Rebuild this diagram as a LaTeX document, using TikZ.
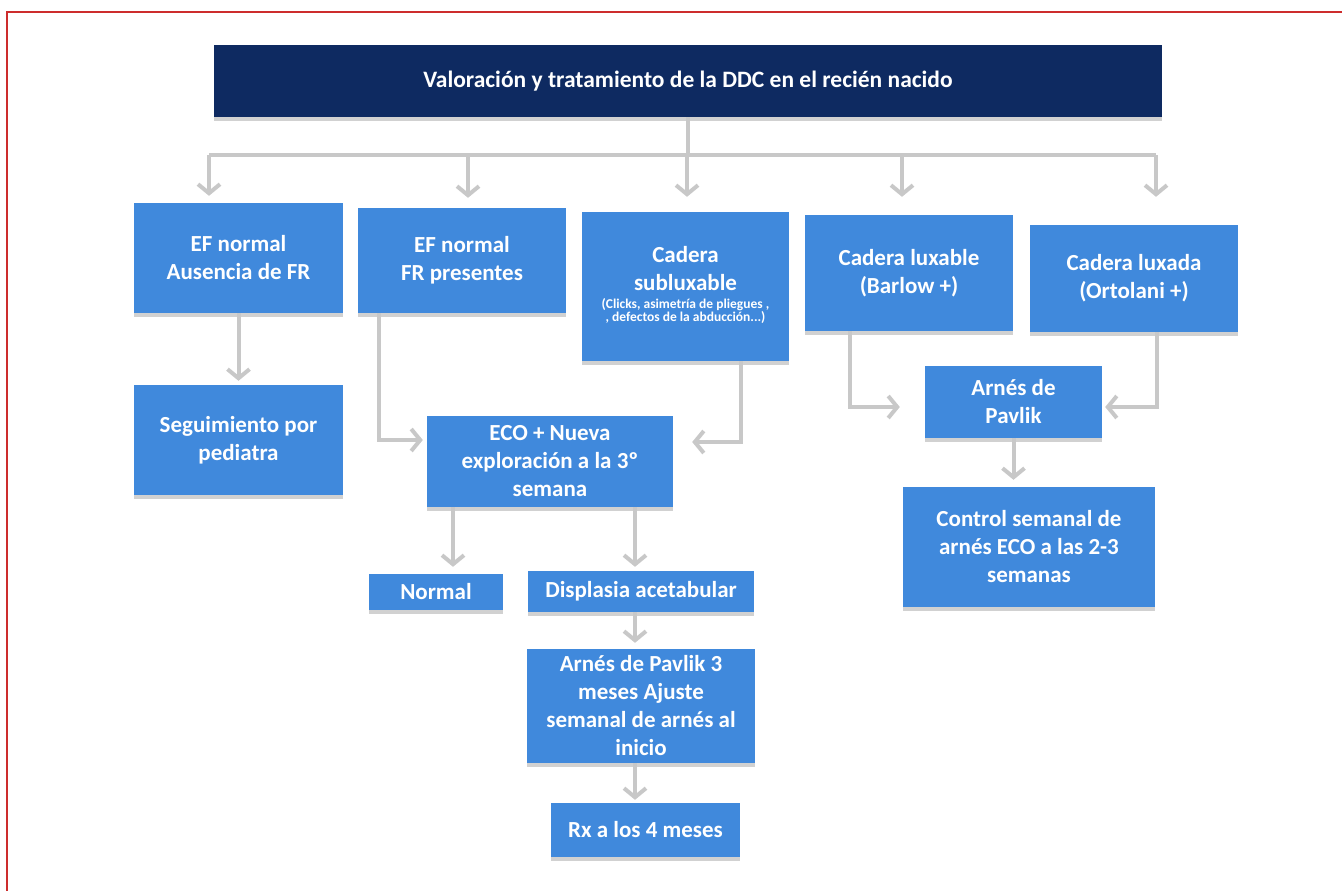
\documentclass[tikz,border=0pt]{standalone}
\usepackage{fontspec}
\setmainfont{Carlito}
\usetikzlibrary{arrows.meta,positioning,calc,shadows}
\definecolor{ddcblue}{RGB}{64,137,220}
\definecolor{ddcnavy}{RGB}{14,42,97}
\definecolor{ddcgray}{RGB}{200,200,200}
\definecolor{ddcred}{RGB}{205,45,45}

\begin{document}
\begin{tikzpicture}[x=1pt,y=-1pt,>={Straight Barb[length=9pt,width=22pt]}]
  \tikzstyle{box}=[fill=ddcblue,text=white,align=center,inner sep=0pt,
    font=\bfseries\fontsize{23}{28}\selectfont,
    drop shadow={shadow xshift=0pt,shadow yshift=-4pt,fill=black!40,opacity=0.45}]
  \tikzstyle{link}=[draw=ddcgray,line width=4pt]

  \useasboundingbox (0,0) rectangle (1342,891);
  \draw[ddcred,line width=2pt] (1342,12) -- (7,12) -- (7,891);

  \node[box,fill=ddcnavy,minimum width=948pt,minimum height=72pt,
    font=\bfseries\fontsize{23.5}{28}\selectfont] (title) at (688,81)
    {Valoración y tratamiento de la DDC en el recién nacido};

  \node[box,minimum width=209pt,minimum height=110pt] (ef1) at (238.5,258) {EF normal\\Ausencia de FR};
  \node[box,minimum width=208pt,minimum height=105pt] (ef2) at (462,260.5) {EF normal\\FR presentes};
  \node[box,minimum width=207pt,minimum height=149pt] (sub) at (685.5,286.5)
    {Cadera\\subluxable\\[-3pt]{\fontsize{13.5}{16}\selectfont\begin{tabular}{@{}c@{}}
      (Clicks, asimetría de pliegues ,\\[-3pt] , defectos de la abducción...)\end{tabular}}};
  \node[box,minimum width=208pt,minimum height=116pt] (lux) at (909,273) {Cadera luxable\\(Barlow +)};
  \node[box,minimum width=208pt,minimum height=107pt] (luxada) at (1134,278.5) {Cadera luxada\\(Ortolani +)};

  \node[box,minimum width=209pt,minimum height=110pt] (seg) at (238.5,440) {Seguimiento por\\pediatra};
  \node[box,minimum width=246pt,minimum height=91pt] (eco) at (550,461.5)
    {ECO + Nueva\\exploración a la 3º\\semana};
  \node[box,minimum width=177pt,minimum height=72pt] (arnes) at (1013.5,402) {Arnés de\\Pavlik};
  \node[box,minimum width=252pt,minimum height=120pt] (control) at (1029,547)
    {Control semanal de\\arnés ECO a las 2-3\\semanas};

  \node[box,minimum width=134pt,minimum height=36pt] (normal) at (436,592) {Normal};
  \node[box,minimum width=226pt,minimum height=41pt] (displ) at (641,591.5) {Displasia acetabular};
  \node[box,minimum width=228pt,minimum height=114pt] (pav3) at (641,706)
    {Arnés de Pavlik 3\\meses Ajuste\\semanal de arnés al\\inicio};
  \node[box,minimum width=189pt,minimum height=54pt] (rx) at (645.5,830) {Rx a los 4 meses};

  % reparto desde el título
  \coordinate (bus) at (688,155);
  \draw[link] (title.south) -- (bus);
  \draw[link] ([xshift=-29.5pt]ef1.north |- bus) -- ([xshift=22pt]luxada.north |- bus);
  \foreach \n/\dx/\gap in {ef1/-29.5/7,ef2/6/10,sub/1.5/15,lux/-7/18,luxada/22/28}
    \draw[link,->,shorten >=\gap pt] ([xshift=\dx pt]\n.north |- bus) -- ([xshift=\dx pt]\n.north);

  \draw[link,->,shorten >=4pt] (ef1.south) -- (seg.north);
  \draw[link,->,shorten >=4pt] ([xshift=-83pt]ef2.south) |- ([yshift=21.5pt]eco.west);
  \draw[link,->,shorten >=19pt] ([xshift=55.5pt]sub.south) |- ([yshift=19.5pt]eco.east);
  \draw[link,->,shorten >=25pt] ([xshift=-59pt]lux.south) |- ([yshift=-5pt]arnes.west);
  \draw[link,->,shorten >=3pt] ([xshift=23pt]luxada.south) |- ([yshift=-5pt]arnes.east);
  \draw[link,->,shorten >=7pt] (arnes.south) -- (arnes.south |- control.north);

  \draw[link,->,shorten >=7pt] ([xshift=-97pt]eco.south) -- ([xshift=-97pt]eco.south |- normal.north);
  \draw[link,->,shorten >=4pt] ([xshift=85pt]eco.south) -- ([xshift=85pt]eco.south |- displ.north);
  \draw[link,->,shorten >=6pt] ([xshift=-6pt]displ.south) -- ([xshift=-6pt]displ.south |- pav3.north);
  \draw[link,->,shorten >=3pt] ([xshift=-6pt]pav3.south) -- ([xshift=-6pt]pav3.south |- rx.north);
\end{tikzpicture}
\end{document}
